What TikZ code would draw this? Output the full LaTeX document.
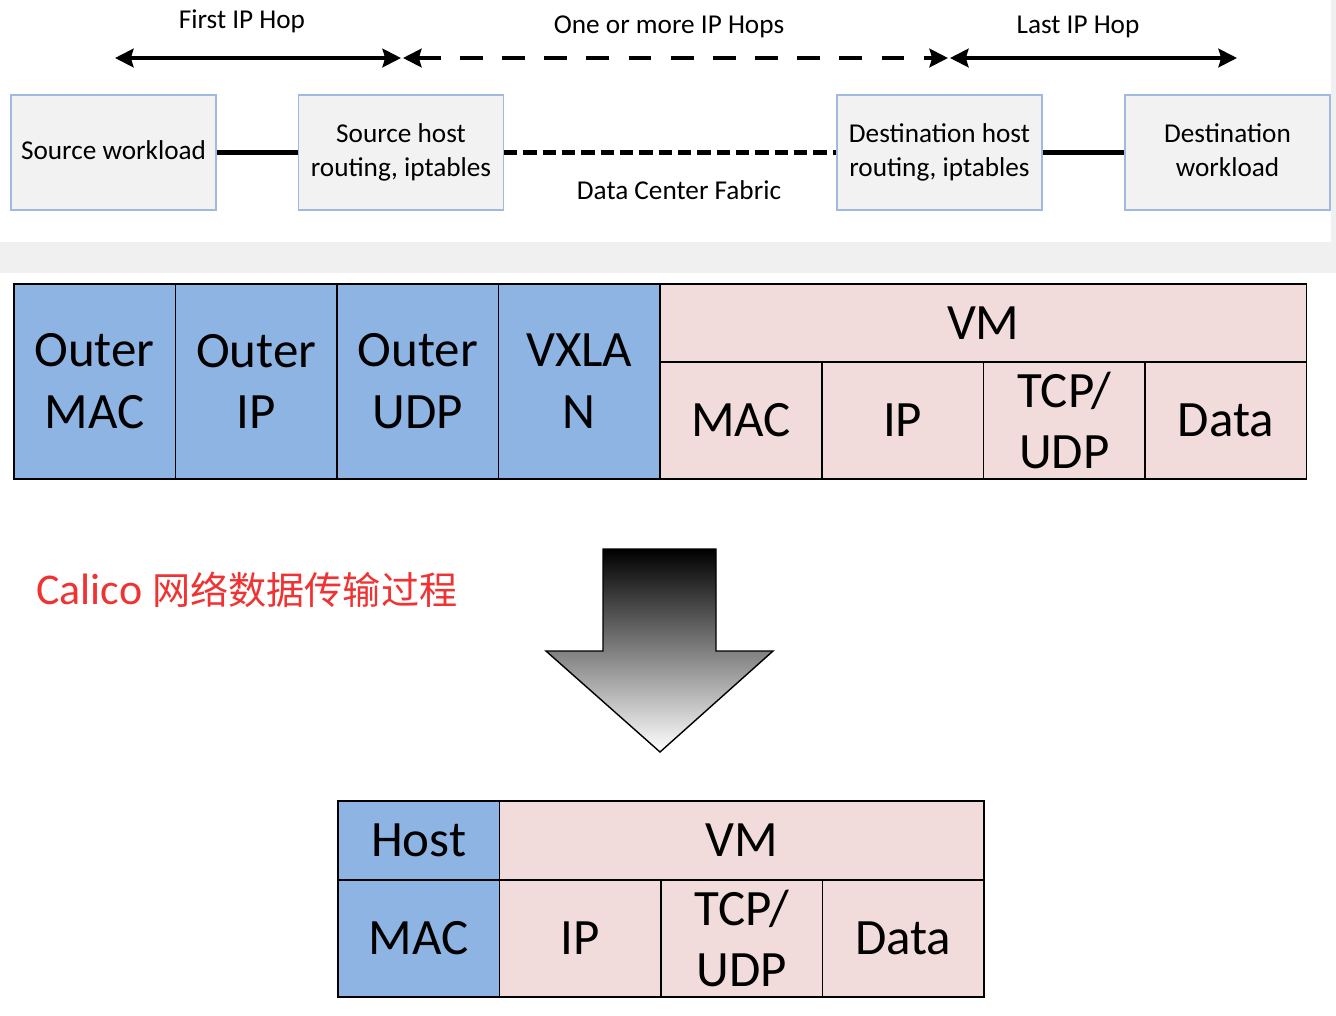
\documentclass[tikz,border=0pt]{standalone}
\usepackage{fontspec}
\setmainfont{Carlito}
\newfontfamily\cjk{Noto Sans CJK SC}
\usetikzlibrary{arrows.meta}
\definecolor{boxfill}{RGB}{242,242,242}
\definecolor{boxline}{RGB}{160,185,225}
\definecolor{hdrblue}{RGB}{142,180,227}
\definecolor{vmpink}{RGB}{242,220,219}
\definecolor{bandgray}{RGB}{240,240,240}
\definecolor{calred}{RGB}{240,50,50}
\tikzset{
    hoptip/.tip={Stealth[length=10.5pt,width=10.5pt,inset=1.5pt]},
    hopbox/.style={draw=boxline, fill=boxfill, line width=0.7pt, minimum width=4.1cm,
        minimum height=2.3cm, align=center, inner sep=2pt, font=\fontsize{15.5}{19.5}\selectfont},
    hoplbl/.style={font=\fontsize{15.5}{19.5}\selectfont},
    link/.style={line width=2.8pt},
    hop/.style={line width=2.6pt, hoptip-hoptip},
    cell/.style={draw, line width=0.9pt, anchor=north west, minimum width=3.232cm,
        inner sep=0pt, align=center, font=\fontsize{29}{35}\selectfont},
    hdrcell/.style={cell, fill=hdrblue},
    vmcell/.style={cell, fill=vmpink}
}
\begin{document}
\begin{tikzpicture}[x=0.02cm,y=-0.02cm]
    \useasboundingbox (0,0) rectangle (1336,1015);
    \fill[bandgray] (0,242) rectangle (1336,273);
    \fill[bandgray] (1331,0) rectangle (1336,242);

    % hops
    \node[hopbox] (srcwl) at (113.5,152.5) {\strut Source workload};
    \node[hopbox] (srchost) at (401,152.5) {\strut Source host\\routing, iptables\strut};
    \node[hopbox] (dsthost) at (939.5,152.5) {\strut Destination host\\routing, iptables\strut};
    \node[hopbox] (dstwl) at (1227.5,152.5) {\strut Destination\\workload\strut};
    \draw[link] (srcwl.east) -- (srchost.west);
    \draw[link, dash pattern=on 7.5pt off 3.5pt] (srchost.east) -- (dsthost.west);
    \draw[link] (dsthost.east) -- (dstwl.west);
    \node[hoplbl] (fabric) at (679,190) {Data Center Fabric};

    \coordinate (firsta) at (115,58);
    \coordinate (firstb) at (401,58);
    \coordinate (morea) at (403,58);
    \coordinate (moreb) at (948,58);
    \coordinate (lasta) at (950,58);
    \coordinate (lastb) at (1237,58);
    \draw[hop] (firsta) -- (firstb);
    \draw[hop, dash pattern=on 13pt off 11pt] (morea) -- (moreb);
    \draw[hop] (lasta) -- (lastb);
    \node[hoplbl] (firstlbl) at (242,21) {First IP Hop};
    \node[hoplbl] (morelbl) at (669,27) {One or more IP Hops};
    \node[hoplbl] (lastlbl) at (1078,27) {Last IP Hop};

    % VXLAN packet
    \node[hdrcell, minimum height=3.9cm] (omac) at (13,283) {Outer\\MAC};
    \node[hdrcell, minimum height=3.9cm] (oip) at (174.6,283) {Outer\\IP};
    \node[hdrcell, minimum height=3.9cm] (oudp) at (336.2,283) {Outer\\UDP};
    \node[hdrcell, minimum height=3.9cm] (vxlan) at (497.8,283) {VXLA\\N};
    \node[vmcell, minimum width=12.928cm, minimum height=1.56cm] (vm) at (659.4,283) {VM};
    \node[vmcell, minimum height=2.34cm] (imac) at (659.4,361) {MAC};
    \node[vmcell, minimum height=2.34cm] (iip) at (821,361) {IP};
    \node[vmcell, minimum height=2.34cm] (itcp) at (982.6,361) {TCP/\\UDP};
    \node[vmcell, minimum height=2.34cm] (idata) at (1144.2,361) {Data};

    \node[anchor=west, text=calred, inner sep=0pt] (title) at (36,590)
        {\fontsize{25}{29}\selectfont Calico {\cjk\fontsize{21.7}{25}\selectfont 网络数据传输过程}};

    % big arrow
    \shade[top color=black, middle color=black!26, bottom color=white, draw=black, line width=0.8pt]
        (603,549) -- (716,549) -- (716,651) -- (773,651) -- (660,752)
        -- (546,651) -- (603,651) -- cycle;

    % Calico packet
    \node[hdrcell, minimum height=1.58cm] (host) at (337,800) {Host};
    \node[hdrcell, minimum height=2.34cm] (hmac) at (337,879) {MAC};
    \node[vmcell, minimum width=9.696cm, minimum height=1.58cm] (vm2) at (498.5,800) {VM};
    \node[vmcell, minimum height=2.34cm] (ip2) at (498.5,879) {IP};
    \node[vmcell, minimum height=2.34cm] (tcp2) at (660,879) {TCP/\\UDP};
    \node[vmcell, minimum height=2.34cm] (data2) at (821.5,879) {Data};
\end{tikzpicture}
\end{document}
